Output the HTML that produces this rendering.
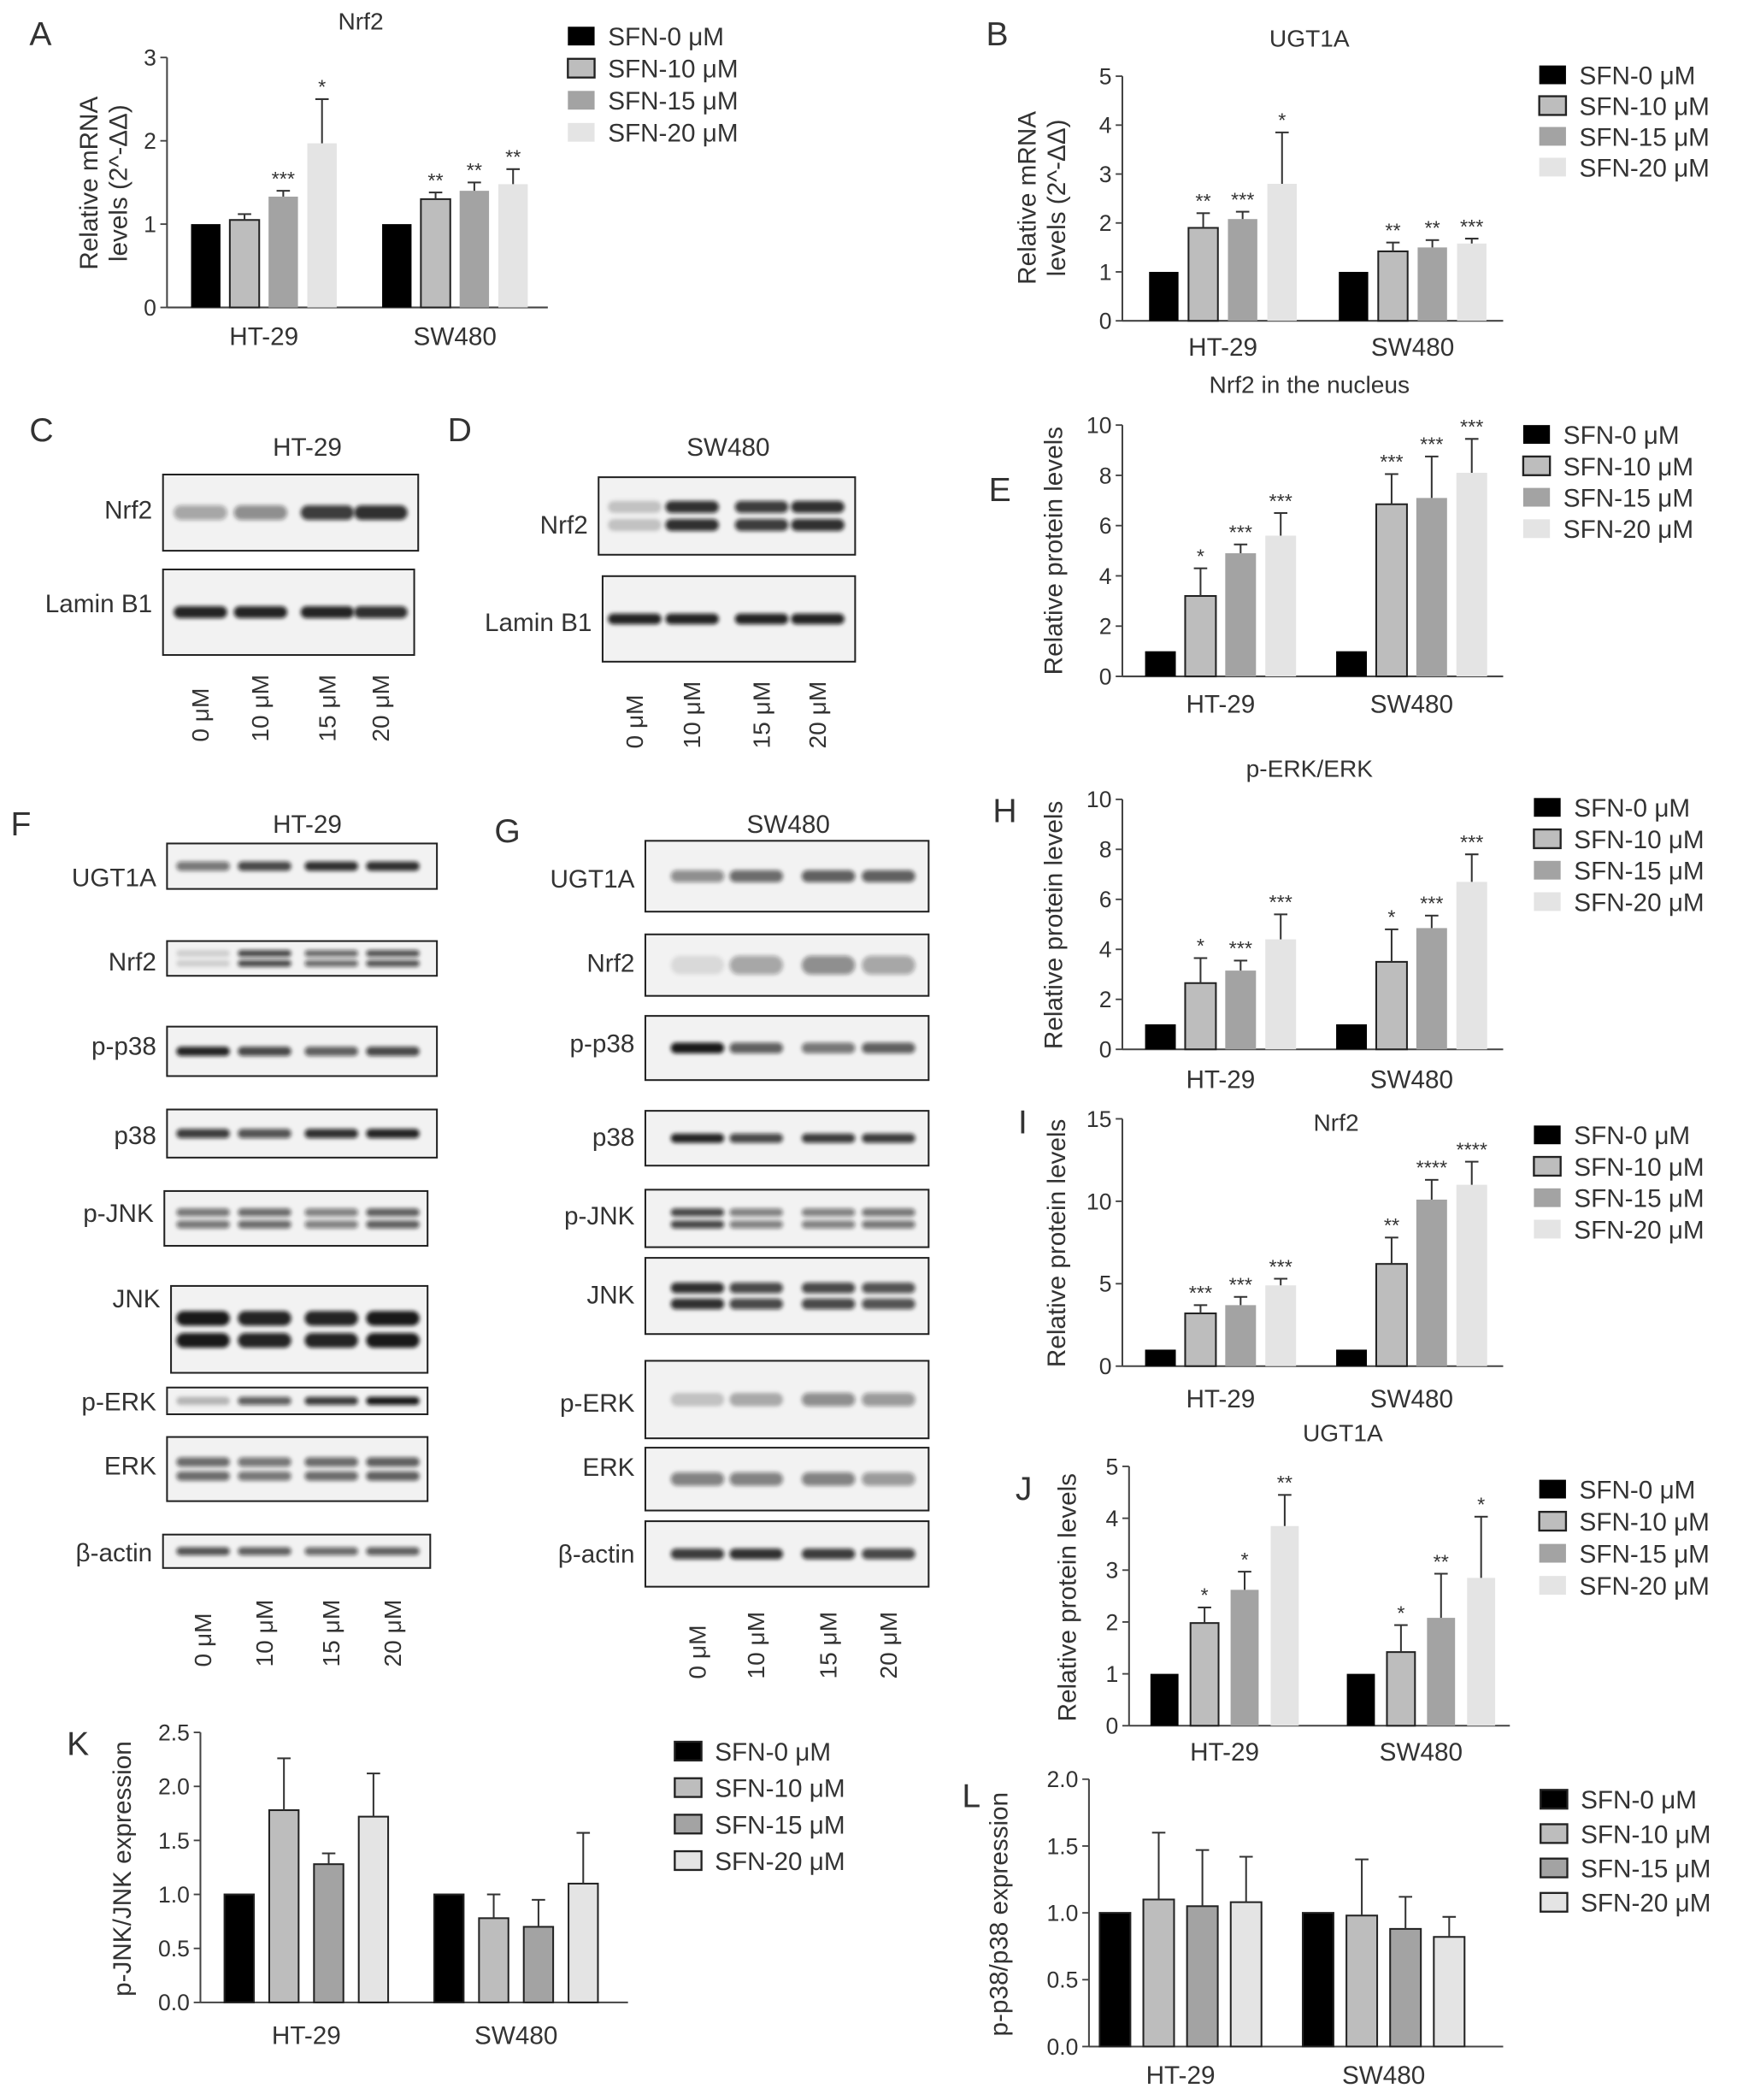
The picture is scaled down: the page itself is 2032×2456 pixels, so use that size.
<!DOCTYPE html>
<html><head><meta charset="utf-8"><style>
html,body{margin:0;padding:0;background:#fff}
svg{display:block}
text{font-family:"Liberation Sans",sans-serif;fill:#333}
</style></head><body>
<svg id="fig" width="2032" height="2456" viewBox="0 0 1300 1571" preserveAspectRatio="none" xmlns="http://www.w3.org/2000/svg">
<defs><filter id="blur" x="-20%" y="-50%" width="140%" height="200%"><feGaussianBlur stdDeviation="1.6"/></filter></defs>
</svg>
<script>
// ---------- shared data ----------
const categories = ['HT-29','SW480'];
const series = ['SFN-0 μM','SFN-10 μM','SFN-15 μM','SFN-20 μM'];
const lanes = ['0 μM','10 μM','15 μM','20 μM'];

// ---------- chart data ----------
const A_values=[[1,1.05,1.33,1.97],[1,1.3,1.4,1.48]];
const A_err=[[0,0.07,0.07,0.53],[0,0.08,0.1,0.18]];
const A_stars=[['','','***','*'],['','**','**','**']];
const A_ticks=['0','1','2','3'];

const B_values=[[1,1.9,2.08,2.8],[1,1.42,1.5,1.58]];
const B_err=[[0,0.3,0.15,1.05],[0,0.18,0.15,0.1]];
const B_stars=[['','**','***','*'],['','**','**','***']];
const B_ticks=['0','1','2','3','4','5'];

const E_values=[[1,3.2,4.9,5.6],[1,6.85,7.1,8.1]];
const E_err=[[0,1.1,0.35,0.9],[0,1.2,1.65,1.35]];
const E_stars=[['','*','***','***'],['','***','***','***']];
const E_ticks=['0','2','4','6','8','10'];

const H_values=[[1,2.65,3.15,4.4],[1,3.5,4.85,6.7]];
const H_err=[[0,1,0.4,1],[0,1.3,0.5,1.1]];
const H_stars=[['','*','***','***'],['','*','***','***']];
const H_ticks=['0','2','4','6','8','10'];

const I_values=[[1,3.2,3.7,4.9],[1,6.2,10.1,11]];
const I_err=[[0,0.5,0.5,0.4],[0,1.6,1.2,1.4]];
const I_stars=[['','***','***','***'],['','**','****','****']];
const I_ticks=['0','5','10','15'];

const J_values=[[1,1.98,2.62,3.85],[1,1.42,2.08,2.85]];
const J_err=[[0,0.3,0.35,0.6],[0,0.52,0.85,1.18]];
const J_stars=[['','*','*','**'],['','*','**','*']];
const J_ticks=['0','1','2','3','4','5'];

const K_values=[[1,1.78,1.28,1.72],[1,0.78,0.7,1.1]];
const K_err=[[0,0.48,0.1,0.4],[0,0.22,0.25,0.47]];
const K_stars=[['','','',''],['','','','']];
const K_ticks=['0.0','0.5','1.0','1.5','2.0','2.5'];

const L_values=[[1,1.1,1.05,1.08],[1,0.98,0.88,0.82]];
const L_err=[[0,0.5,0.42,0.34],[0,0.42,0.24,0.15]];
const L_stars=[['','','',''],['','','','']];
const L_ticks=['0.0','0.5','1.0','1.5','2.0'];

const svg=document.getElementById('fig');
const NS='http://www.w3.org/2000/svg';
function mk(tag,attrs,parent){const e=document.createElementNS(NS,tag);for(const k in attrs)e.setAttribute(k,attrs[k]);(parent||svg).appendChild(e);return e;}
function txt(x,y,s,size,anchor,parent,rot){const t=mk('text',{x:x,y:y,'font-size':size,'text-anchor':anchor||'start'},parent);if(rot)t.setAttribute('transform','rotate(-90 '+x+' '+y+')');t.textContent=s;return t;}

const fills=['#000','#bdbdbd','#a3a3a3','#e4e4e4'];

function chart(id,values,err,stars,ticks,L){
  const g=mk('g',{});
  
  
  const ymax=parseFloat(ticks[ticks.length-1]);
  const ys=v=>L.y0-(v/ymax)*(L.y0-L.yTop);
  const ya=mk('line',{x1:L.ax,y1:L.yTop,x2:L.ax,y2:L.y0,stroke:'#444','stroke-width':1.3},g);
  
  const xa=mk('line',{x1:L.ax,y1:L.y0,x2:L.xEnd,y2:L.y0,stroke:'#444','stroke-width':1.3},g);
  
  ticks.forEach(t=>{const y=ys(parseFloat(t));
    mk('line',{x1:L.ax-5,y1:y,x2:L.ax,y2:y,stroke:'#444','stroke-width':1.2},g);
    const tl=txt(L.ax-8,y+6,t,17,'end',g);
    
  });
  values.forEach((grp,gi)=>{
    grp.forEach((v,si)=>{
      const x=L.gx[gi]+si*L.step, top=ys(v);
      const r=mk('rect',{x:x,y:top,width:L.bw,height:L.y0-top,fill:fills[si],stroke:(si===1||L.outline)?'#222':'none','stroke-width':1.3},g);
      
      
      const e=err[gi][si];
      let sy=top;
      if(e>0){const ey=ys(v+e),cx=x+L.bw/2;
        mk('line',{x1:cx,y1:top,x2:cx,y2:ey,stroke:'#333','stroke-width':1.3},g);
        mk('line',{x1:cx-5,y1:ey,x2:cx+5,y2:ey,stroke:'#333','stroke-width':1.3},g);sy=ey;}
      if(stars[gi][si]){const s=txt(x+L.bw/2,sy-4,stars[gi][si],15,'middle',g);
        }
    });
    const cl=txt(L.gx[gi]+1.5*L.step+L.bw/2,L.labY,categories[gi],19,'middle',g);
    
  });
  if(L.title){const t=txt(L.title[0],L.title[1],L.title[2],18,'middle',g);
    }
  L.ylab.forEach(l=>{const t=txt(l[0],l[1],l[2],19,'middle',g,true);
    });
  series.forEach((s,i)=>{const y=L.leg[1]+i*L.leg[2];
    const r=mk('rect',{x:L.leg[0],y:y-8,width:20,height:14,fill:fills[i],stroke:(i===1||L.outline)?'#222':'none','stroke-width':1.5},g);
    
    const t=txt(L.leg[0]+30,y+6,s,19,'start',g);
    
  });
}

chart('a',A_values,A_err,A_stars,A_ticks,{ax:125,y0:230,yTop:43,xEnd:410,gx:[143,286],bw:22,step:29,labY:258,
  title:[270,22,'Nrf2'],ylab:[[73,137,'Relative mRNA'],[95,137,'levels (2^-ΔΔ)']],leg:[425,28,24]});
chart('b',B_values,B_err,B_stars,B_ticks,{ax:840,y0:240,yTop:57,xEnd:1125,gx:[860,1002],bw:22,step:29.5,labY:266,
  title:[980,35,'UGT1A'],ylab:[[775,148,'Relative mRNA'],[797,148,'levels (2^-ΔΔ)']],leg:[1152,57,23]});
chart('e',E_values,E_err,E_stars,E_ticks,{ax:840,y0:506,yTop:318,xEnd:1125,gx:[857,1000],bw:23,step:30,labY:533,
  title:[980,294,'Nrf2 in the nucleus'],ylab:[[795,412,'Relative protein levels']],leg:[1140,326,23.5]});
chart('h',H_values,H_err,H_stars,H_ticks,{ax:840,y0:785,yTop:598,xEnd:1125,gx:[857,1000],bw:23,step:30,labY:814,
  title:[980,581,'p-ERK/ERK'],ylab:[[795,692,'Relative protein levels']],leg:[1148,605,23.5]});
chart('i',I_values,I_err,I_stars,I_ticks,{ax:840,y0:1022,yTop:837,xEnd:1125,gx:[857,1000],bw:23,step:30,labY:1053,
  title:[1000,846,'Nrf2'],ylab:[[797,930,'Relative protein levels']],leg:[1148,850,23.5]});
chart('j',J_values,J_err,J_stars,J_ticks,{ax:845,y0:1291,yTop:1097,xEnd:1130,gx:[861,1008],bw:21,step:30,labY:1317,
  title:[1005,1078,'UGT1A'],ylab:[[805,1195,'Relative protein levels']],leg:[1152,1115,24]});
chart('k',K_values,K_err,K_stars,K_ticks,{ax:150,y0:1498,yTop:1296,xEnd:470,gx:[168,325],bw:22,step:33.5,labY:1529,outline:true,
  ylab:[[98,1398,'p-JNK/JNK expression']],leg:[505,1311,27.3]});
chart('l',L_values,L_err,L_stars,L_ticks,{ax:815,y0:1531,yTop:1331,xEnd:1125,gx:[823,975],bw:23,step:32.7,labY:1559,outline:true,
  ylab:[[754,1432,'p-p38/p38 expression']],leg:[1153,1347,25.7]});

const letters=[['A',22,34],['B',738,34],['C',22,330],['D',335,330],['E',740,375],['F',8,625],['G',370,630],['H',743,615],['I',762,848],['J',760,1122],['K',50,1313],['L',720,1352]];
letters.forEach(l=>{const t=txt(l[1],l[2],l[0],25,'start');
  });

// ---------- blots ----------
const C_rows=[{n:'Nrf2',bx:[122,313],by:[355,412],ly:388,ints:[0.35,0.45,0.8,0.85],dbl:false,bh:11},
              {n:'Lamin B1',bx:[122,310],by:[426,490],ly:458,ints:[0.9,0.9,0.9,0.85],dbl:false,bh:9}];
const D_rows=[{n:'Nrf2',bx:[448,640],by:[357,415],ly:399,ints:[0.2,0.85,0.8,0.85],dbl:true,bh:9},
              {n:'Lamin B1',bx:[451,640],by:[431,495],ly:472,ints:[0.9,0.9,0.9,0.9],dbl:false,bh:8}];
const F_rows=[
 {n:'UGT1A',bx:[125,327],by:[631,665],ly:663,ints:[0.55,0.75,0.85,0.85],dbl:false,bh:7},
 {n:'Nrf2',bx:[125,327],by:[704,730],ly:726,ints:[0.15,0.75,0.6,0.7],dbl:true,bh:5},
 {n:'p-p38',bx:[125,327],by:[768,805],ly:789,ints:[0.9,0.75,0.65,0.75],dbl:false,bh:7},
 {n:'p38',bx:[125,327],by:[830,866],ly:856,ints:[0.8,0.7,0.85,0.9],dbl:false,bh:7},
 {n:'p-JNK',bx:[123,320],by:[891,932],ly:914,ints:[0.55,0.6,0.5,0.65],dbl:true,bh:6},
 {n:'JNK',bx:[128,320],by:[962,1027],ly:978,ints:[0.95,0.9,0.9,0.95],dbl:true,bh:11},
 {n:'p-ERK',bx:[125,320],by:[1038,1058],ly:1055,ints:[0.25,0.65,0.8,0.95],dbl:false,bh:6},
 {n:'ERK',bx:[125,320],by:[1075,1123],ly:1103,ints:[0.6,0.55,0.6,0.65],dbl:true,bh:7},
 {n:'β-actin',bx:[122,322],by:[1148,1173],ly:1168,ints:[0.7,0.65,0.6,0.65],dbl:false,bh:6}];
const G_rows=[
 {n:'UGT1A',bx:[483,695],by:[629,682],ly:664,ints:[0.45,0.6,0.65,0.65],dbl:false,bh:9},
 {n:'Nrf2',bx:[483,695],by:[699,745],ly:727,ints:[0.1,0.35,0.45,0.35],dbl:false,bh:14},
 {n:'p-p38',bx:[483,695],by:[760,808],ly:787,ints:[0.95,0.65,0.55,0.65],dbl:false,bh:8},
 {n:'p38',bx:[483,695],by:[831,872],ly:857,ints:[0.9,0.75,0.8,0.8],dbl:false,bh:7},
 {n:'p-JNK',bx:[483,695],by:[890,933],ly:916,ints:[0.75,0.5,0.5,0.55],dbl:true,bh:6},
 {n:'JNK',bx:[483,695],by:[941,998],ly:975,ints:[0.85,0.75,0.75,0.7],dbl:true,bh:8},
 {n:'p-ERK',bx:[483,695],by:[1018,1076],ly:1056,ints:[0.2,0.3,0.45,0.4],dbl:false,bh:10},
 {n:'ERK',bx:[483,695],by:[1083,1130],ly:1104,ints:[0.5,0.5,0.5,0.4],dbl:false,bh:10},
 {n:'β-actin',bx:[483,695],by:[1138,1187],ly:1169,ints:[0.8,0.85,0.8,0.75],dbl:false,bh:8}];

function blot(id,title,rows,laneX,laneY){
  const g=mk('g',{});
  
  
  const t=txt(title[0],title[1],title[2],19,'middle',g);
  
  rows.forEach(r=>{
    const b=mk('rect',{x:r.bx[0],y:r.by[0],width:r.bx[1]-r.bx[0],height:r.by[1]-r.by[0],fill:'#f2f2f2',stroke:'#222','stroke-width':1.3},g);
    
    const lt=txt(r.bx[0]-8,r.ly,r.n,19,'end',g);
    
    const cy=(r.by[0]+r.by[1])/2;
    r.ints.forEach((v,i)=>{
      const cx=laneX[i];
      const off=r.dbl?[-r.bh*0.75,r.bh*0.75]:[0];
      off.forEach(o=>{
        const e=mk('rect',{x:cx-20,y:cy+o-r.bh/2,width:40,height:r.bh,rx:r.bh/2,fill:'#111','fill-opacity':v,filter:'url(#blur)'},g);
        
      });
    });
  });
  lanes.forEach((l,i)=>{const t=txt(laneX[i]+6,laneY,l,18,'start',g,true);
    });
}
blot('c',[230,341,'HT-29'],C_rows,[150,195,245,285],555);
blot('d',[545,341,'SW480'],D_rows,[475,518,570,612],560);
blot('f',[230,623,'HT-29'],F_rows,[152,198,248,294],1247);
blot('g',[590,623,'SW480'],G_rows,[522,566,620,665],1256);
</script>
</body></html>
